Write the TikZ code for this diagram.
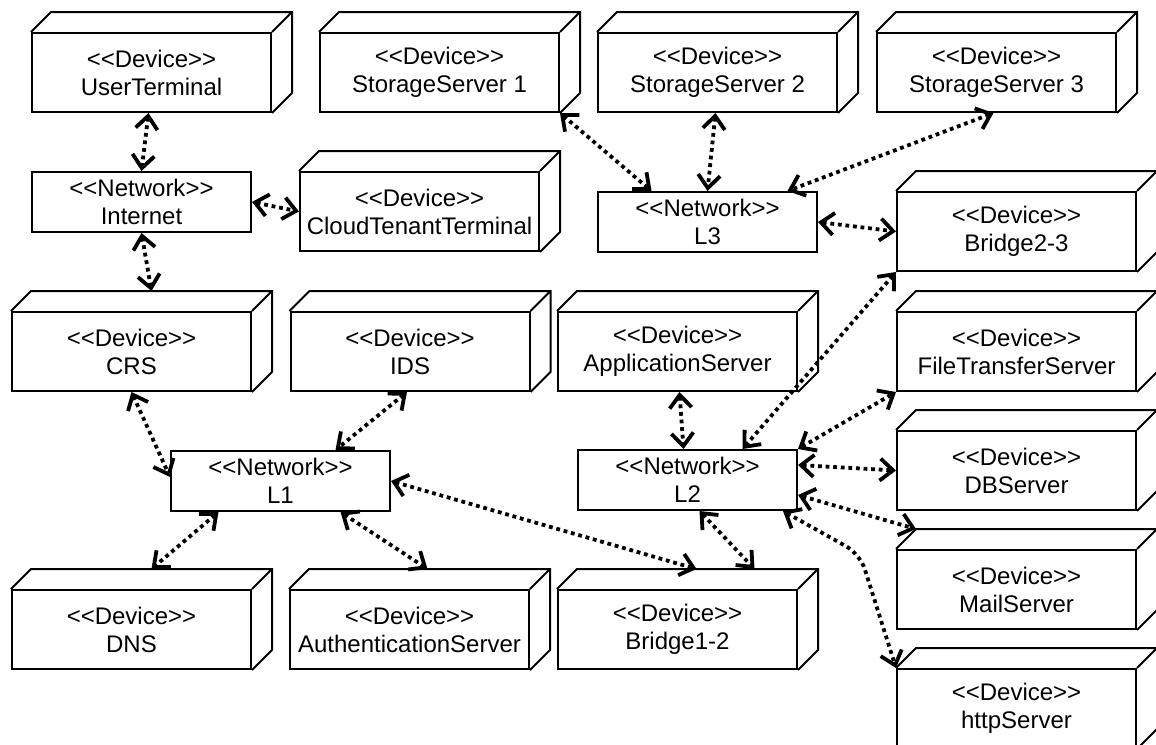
\documentclass[tikz,border=0pt]{standalone}
\usepackage{fontspec}
\setmainfont{Liberation Sans}
\usetikzlibrary{arrows.meta}
\newcommand{\stereo}[1]{<\kern0pt<#1>\kern0pt>}

\begin{document}
\begin{tikzpicture}[
        x=0.5pt, y=-0.5pt,
        font=\fontsize{12}{14}\selectfont,
        >={Straight Barb[length=6.5pt,width=11pt]},
        box/.style={
                draw=black,
                line width=1pt,
                fill=white,
                inner sep=0pt,
                align=center
            },
        device/.style={box, minimum width=119.5pt, minimum height=39.5pt},
        network/.style={box, minimum width=109.5pt, minimum height=30pt},
        depth/.style={line width=1pt},
        link/.style={<->, line width=1.9pt, dash pattern=on 1.9pt off 1.9pt},
    ]

    \useasboundingbox (0,0) rectangle (1156,744);

    % Devices
    \node[device] (ut)   at (151.5,72.5)  {\stereo{Device}\\UserTerminal};
    \node[device] (ss1)  at (439.5,72.5)  {\stereo{Device}\\StorageServer 1};
    \node[device] (ss2)  at (717.5,72.5)  {\stereo{Device}\\StorageServer 2};
    \node[device] (ss3)  at (996.5,72.5)  {\stereo{Device}\\StorageServer 3};
    \node[device] (ctt)  at (419.5,211.5) {\stereo{Device}\\CloudTenantTerminal};
    \node[device] (br23) at (1016.5,231.5) {\stereo{Device}\\Bridge2-3};
    \node[device] (crs)  at (131.5,351.5) {\stereo{Device}\\CRS};
    \node[device] (ids)  at (410,351.5)   {\stereo{Device}\\IDS};
    \node[device] (app)  at (677.5,351.5) {\stereo{Device}\\ApplicationServer};
    \node[device] (fts)  at (1016.5,351.5) {\stereo{Device}\\FileTransferServer};
    \node[device] (dbs)  at (1016.5,470.5) {\stereo{Device}\\DBServer};
    \node[device] (mail) at (1016.5,589.5) {\stereo{Device}\\MailServer};
    \node[device] (http) at (1016.5,708.5) {\stereo{Device}\\httpServer};
    \node[device] (dns)  at (131.5,629.5) {\stereo{Device}\\DNS};
    \node[device] (auth) at (409.5,629.5) {\stereo{Device}\\AuthenticationServer};
    \node[device] (br12) at (677.5,629.5) {\stereo{Device}\\Bridge1-2};

    % 3D sides of the devices
    \foreach \n in {ut,ss1,ss2,ss3,ctt,br23,crs,ids,app,fts,dbs,mail,http,dns,auth,br12}
        \draw[depth] (\n.north west) -- ++(20,-20) -| ([shift={(20,-20)}]\n.south east) -- (\n.south east)
            (\n.north east) -- ++(20,-20);

    % Networks
    \node[network] (inet) at (141.5,202) {\stereo{Network}\\Internet};
    \node[network] (l3)   at (707.5,222) {\stereo{Network}\\L3};
    \node[network] (l1)   at (280.5,481) {\stereo{Network}\\L1};
    \node[network] (l2)   at (687.5,480) {\stereo{Network}\\L2};

    % Links
    \draw[link] ([shift={(-3,0)}]ut.south) -- (inet.north);
    \draw[link] (inet.east) -- (ctt.west);
    \draw[link] (inet.south) -- ([shift={(20,-20)}]crs.north);
    \draw[link] (ss1.south east) -- ([shift={(-56,0)}]l3.north);
    \draw[link] ([shift={(-2,0)}]ss2.south) -- (l3.north);
    \draw[link] ([shift={(-3,0)}]ss3.south) -- ([shift={(80,0)}]l3.north);
    \draw[link] (l3.east) -- (br23.west);
    \draw[link] (crs.south) -- ([shift={(0,-4)}]l1.west);
    \draw[link] ([shift={(-3,0)}]ids.south) -- ([shift={(55,0)}]l1.north);
    \draw[link] ([shift={(-62,0)}]l1.south) -- ([shift={(20,-20)}]dns.north);
    \draw[link] ([shift={(60,0)}]l1.south) -- ([shift={(18,-20)}]auth.north);
    \draw[link] (l1.east) -- ([shift={(19,-20)}]br12.north);
    \draw[link] ([shift={(2,0)}]app.south) -- ([shift={(-4,0)}]l2.north);
    \draw[link] ([shift={(12,0)}]l2.south) -- ([shift={(77,-20)}]br12.north);
    \draw[link] ([shift={(55,0)}]l2.north) -- (br23.south west);
    \draw[link] (l2.north east) -- (fts.south west);
    \draw[link] ([shift={(0,-15)}]l2.east) -- (dbs.west);
    \draw[link] ([shift={(0,15)}]l2.east) -- ([shift={(20,-20)}]mail.north west);
    \coordinate (bend) at (860,554);
    \draw[link, rounded corners=8pt] ([shift={(-15,0)}]l2.south east) -- (bend) -- (http.north west);

\end{tikzpicture}
\end{document}
